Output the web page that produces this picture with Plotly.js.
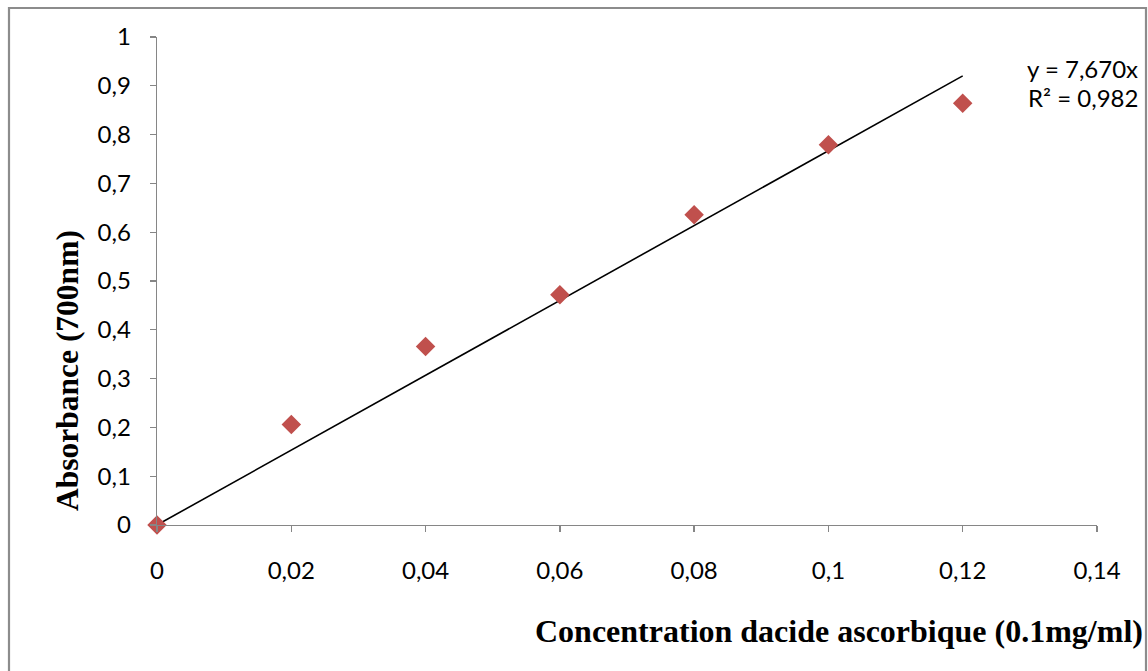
<!DOCTYPE html>
<html>
<head>
<meta charset="utf-8">
<script src="https://cdn.plot.ly/plotly-3.0.1.min.js"></script>
<style>
  html, body { margin: 0; padding: 0; background: #ffffff; }
  #chart { width: 1148px; height: 671px; }
</style>
</head>
<body>
<div id="chart"></div>
<script>
// Ascorbic acid calibration: concentration vs absorbance at 700 nm
const concentration = [0, 0.02, 0.04, 0.06, 0.08, 0.10, 0.12];
const absorbance = [0, 0.206, 0.366, 0.472, 0.636, 0.779, 0.864];

// Linear fit through the origin, y = slope * x
const slope = 7.670;
const rSquared = 0.982;
const fitX = [0, 0.12];
const fitY = fitX.map(x => slope * x);

const xTickVals = [0, 0.02, 0.04, 0.06, 0.08, 0.10, 0.12, 0.14];
const xTickText = ['0', '0,02', '0,04', '0,06', '0,08', '0,1', '0,12', '0,14'];
const yTickVals = [0, 0.1, 0.2, 0.3, 0.4, 0.5, 0.6, 0.7, 0.8, 0.9, 1];
const yTickText = ['0', '0,1', '0,2', '0,3', '0,4', '0,5', '0,6', '0,7', '0,8', '0,9', '1'];

const fmt = v => v.toFixed(3).replace('.', ',');

const tickFont = { family: 'Lato, "Open Sans", sans-serif', size: 24, color: '#000000' };
const serif = '"Liberation Serif", "DejaVu Serif", serif';

const traces = [
  {
    x: fitX, y: fitY, type: 'scatter', mode: 'lines',
    line: { color: '#000000', width: 1.6 },
    hoverinfo: 'skip', cliponaxis: false
  },
  {
    x: concentration, y: absorbance, type: 'scatter', mode: 'markers',
    marker: { symbol: 'diamond', size: 15, color: '#C0504D' },
    cliponaxis: false
  }
];

const axisCommon = {
  showgrid: false, zeroline: false, showline: true,
  linecolor: '#868686', linewidth: 1.3,
  ticks: 'outside', ticklen: 6, tickcolor: '#868686', tickwidth: 1.3,
  tickfont: tickFont, fixedrange: true
};

const layout = {
  width: 1148, height: 671,
  margin: { l: 157, r: 51, t: 37, b: 146 },
  paper_bgcolor: '#ffffff', plot_bgcolor: '#ffffff',
  showlegend: false,
  xaxis: Object.assign({}, axisCommon, {
    range: [0, 0.14], tickmode: 'array', tickvals: xTickVals, ticktext: xTickText,
    ticklabelstandoff: 18
  }),
  yaxis: Object.assign({}, axisCommon, {
    range: [0, 1], tickmode: 'array', tickvals: yTickVals, ticktext: yTickText,
    ticklabelstandoff: 14
  }),
  annotations: [
    {
      xref: 'paper', yref: 'paper', x: (839 - 157) / 940, y: (525 - 631) / 488,
      text: '<b>Concentration dacide ascorbique (0.1mg/ml)</b>', showarrow: false,
      font: { family: serif, size: 32, color: '#000000' }, xanchor: 'center', yanchor: 'middle'
    },
    {
      xref: 'paper', yref: 'paper', x: (68 - 157) / 940, y: (525 - 371) / 488,
      text: '<b>Absorbance (700nm)</b>', showarrow: false, textangle: -90,
      font: { family: serif, size: 31.5, color: '#000000' }, xanchor: 'center', yanchor: 'middle'
    },
    {
      xref: 'paper', yref: 'paper', x: (1140 - 157) / 940, y: (525 - 68) / 488,
      text: 'y = ' + fmt(slope) + 'x', showarrow: false,
      font: tickFont, xanchor: 'right', yanchor: 'middle'
    },
    {
      xref: 'paper', yref: 'paper', x: (1140 - 157) / 940, y: (525 - 97) / 488,
      text: 'R² = ' + fmt(rSquared), showarrow: false,
      font: tickFont, xanchor: 'right', yanchor: 'middle'
    }
  ],
  shapes: [
    {
      type: 'rect', xref: 'paper', yref: 'paper', layer: 'below',
      x0: (9 - 157) / 940, x1: (1146 - 157) / 940,
      y0: (525 - 690) / 488, y1: (525 - 8) / 488,
      line: { color: '#8c8c8c', width: 2.2 }, fillcolor: 'rgba(0,0,0,0)'
    }
  ]
};

Plotly.newPlot('chart', traces, layout, { displayModeBar: false, staticPlot: true });
</script>
</body>
</html>
